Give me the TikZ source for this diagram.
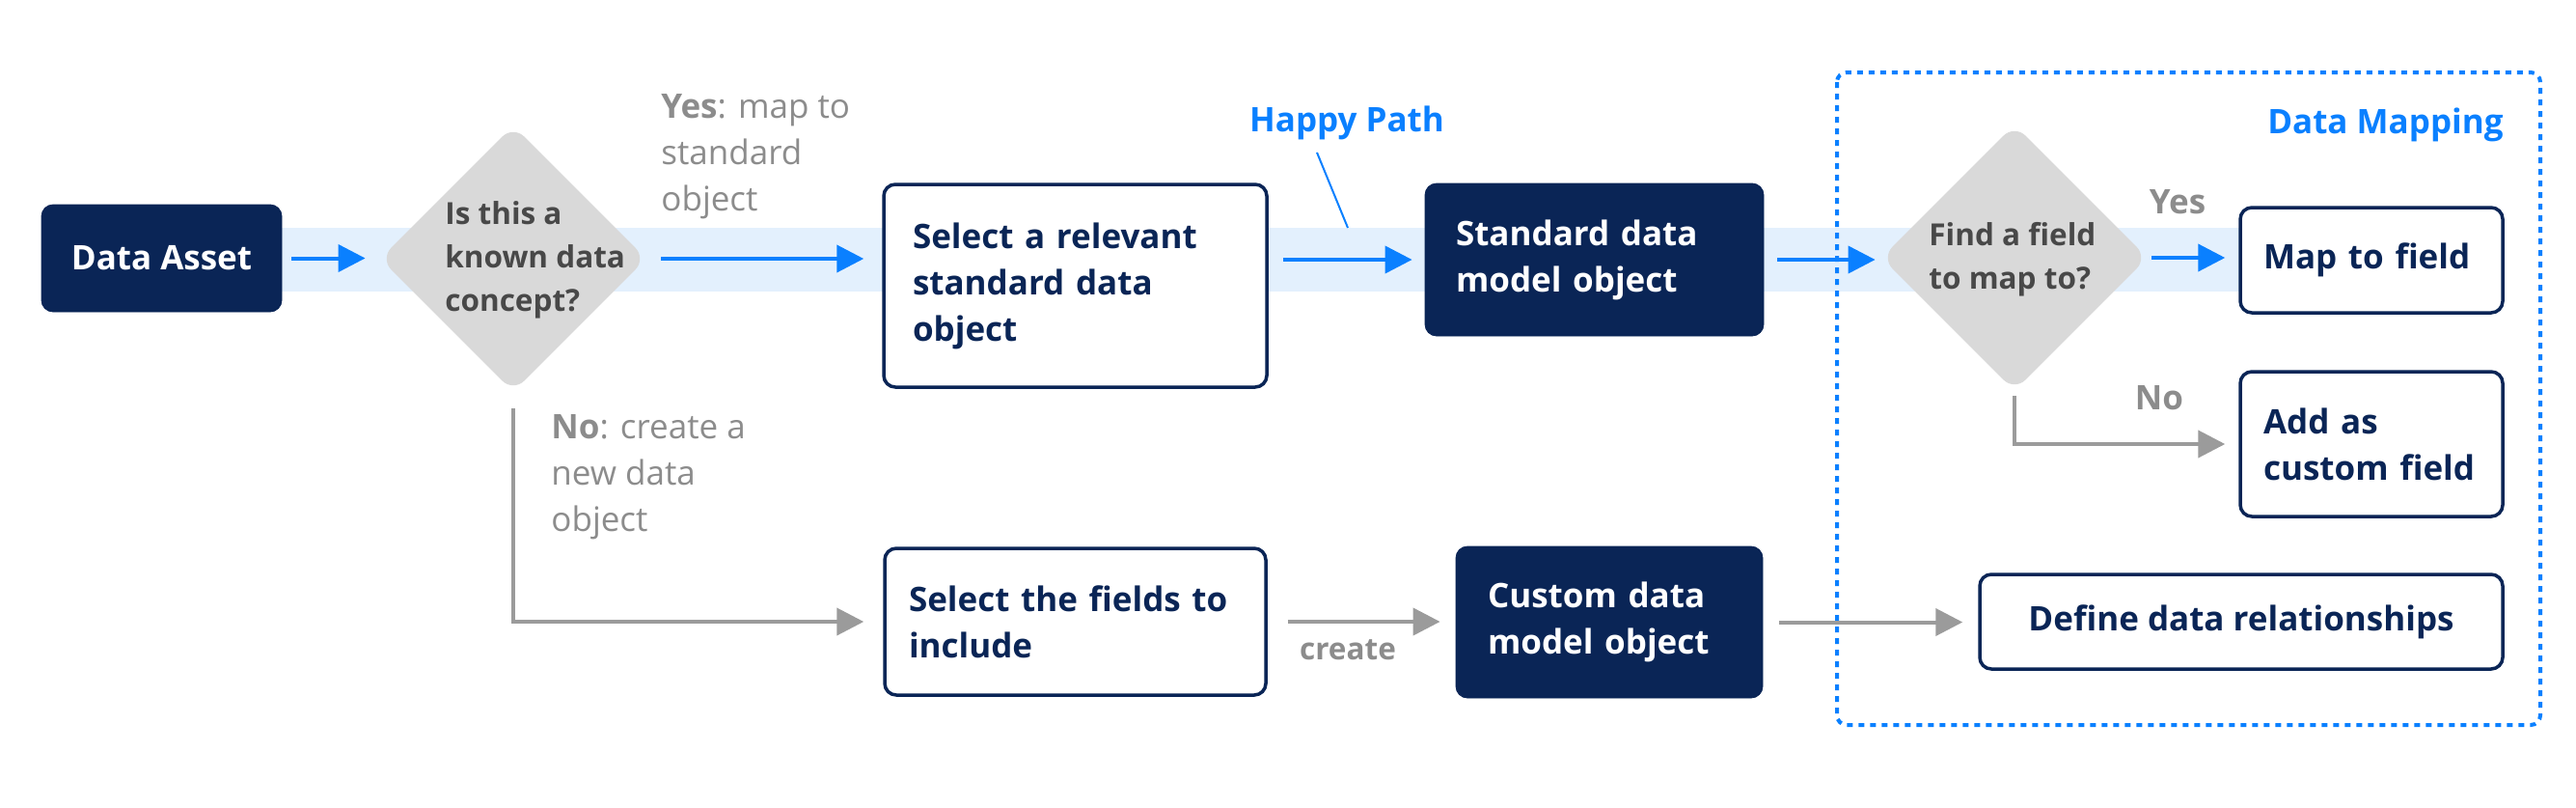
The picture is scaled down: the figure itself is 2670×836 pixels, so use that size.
\documentclass[tikz,border=0pt]{standalone}
\usepackage{fontspec}
\setmainfont{Open Sans}
\usetikzlibrary{arrows.meta,shapes.geometric}

\definecolor{navy}{RGB}{10,37,86}
\definecolor{hblue}{RGB}{10,128,255}
\definecolor{bandblue}{RGB}{227,240,253}
\definecolor{diagray}{RGB}{217,217,217}
\definecolor{qgray}{RGB}{72,72,72}
\definecolor{lblgray}{RGB}{140,140,140}
\definecolor{arrgray}{RGB}{155,155,155}

\tikzset{
  boxfont/.style={font=\bfseries\fontsize{17.5}{24}\selectfont},
  darkbox/.style={boxfont, fill=navy, draw=navy, text=white, rounded corners=6pt, align=left, inner ysep=0pt},
  whitebox/.style={boxfont, fill=white, draw=navy, line width=1.75pt, text=navy, rounded corners=6pt, align=left, inner ysep=0pt},
  decision/.style={diamond, aspect=1, fill=diagray, rounded corners=8pt, minimum width=138pt, minimum height=138pt, inner sep=0pt},
  qtext/.style={font=\bfseries\fontsize{15.75}{22.5}\selectfont, text=qgray, align=left, inner sep=0pt},
  note/.style={font=\fontsize{17.5}{24}\selectfont, text=lblgray, align=left, inner sep=0pt},
  notebold/.style={font=\bfseries\fontsize{17.5}{24}\selectfont, text=lblgray, inner sep=0pt},
  bluelbl/.style={font=\bfseries\fontsize{17.5}{24}\selectfont, text=hblue, inner sep=0pt},
  flow/.style={draw=hblue, line width=2pt, -{Triangle[length=14pt,width=14pt]}},
  altflow/.style={draw=arrgray, line width=2pt, -{Triangle[length=14pt,width=14pt]}},
  leader/.style={draw=hblue, line width=1pt},
  mapframe/.style={draw=hblue, line width=2pt, dash pattern=on 3pt off 3pt, rounded corners=5pt}
}

\begin{document}
\begin{tikzpicture}[x=0.5pt, y=-0.5pt]
    \useasboundingbox (0,0) rectangle (2670,836);

    % happy path band
    \fill[bandblue] (292,236) rectangle (2322,302);

    % data mapping frame
    \draw[mapframe] (1904,75) rectangle (2633,751);

    % top row
    \node[darkbox, minimum width=124.5pt, minimum height=55.5pt, align=center] (asset) at (167.5,267.5) {Data Asset};
    \node[decision] (known) at (532,268) {};
    \node[qtext, anchor=west] (knowntxt) at (461,269) {Is this a\\known data\\concept?};
    \node[whitebox, text width=168.5pt, inner xsep=15pt, minimum height=105pt] (stdsel) at (1114.5,296) {Select a relevant\\standard data\\object};
    \node[darkbox, text width=143.5pt, inner xsep=16pt, minimum height=79pt] (stdobj) at (1652.5,269) {Standard data\\model object};
    \node[decision] (find) at (2088,267) {};
    \node[qtext, anchor=west] (findtxt) at (1999,268.5) {Find a field\\to map to?};
    \node[whitebox, text width=112pt, inner xsep=12pt, minimum height=54.5pt] (mapfld) at (2458,269.5) {Map to field};
    \node[whitebox, text width=112pt, inner xsep=12pt, minimum height=75pt] (addfld) at (2458,460) {Add as\\custom field};

    % bottom row
    \node[whitebox, text width=172.5pt, inner xsep=12.5pt, minimum height=76pt] (selfld) at (1114.5,644) {Select the fields to\\include};
    \node[darkbox, text width=126pt, inner xsep=16.5pt, minimum height=78.5pt] (custobj) at (1668,644.5) {Custom data\\model object};
    \node[whitebox, minimum width=271pt, minimum height=49pt, align=center] (defrel) at (2323,644) {Define data relationships};

    % labels
    \node[note, anchor=west] (yeslbl) at (685,162) {\textbf{Yes}: map to\\standard\\object};
    \node[note, anchor=west] (nolbl) at (571,494) {\textbf{No}: create a\\new data\\object};
    \node[notebold, font=\bfseries\fontsize{15.75}{20}\selectfont] (createlbl) at (1397,673) {create};
    \node[notebold] (yesfind) at (2257,209) {Yes};
    \node[notebold] (nofind) at (2238,412) {No};
    \node[bluelbl] (happy) at (1396,127) {Happy Path};
    \node[bluelbl, anchor=east] (maplbl) at (2595,129) {Data Mapping};

    % happy path pointer
    \coordinate (leadtop) at (1365,158);
    \coordinate (leadbot) at (1397,236);
    \draw[leader] (leadtop) -- (leadbot);

    % blue flow
    \draw[flow, shorten <=5pt, shorten >=7.5pt] (asset.east) -- (asset.east -| known.west);
    \draw[flow, shorten <=7.5pt, shorten >=9.5pt] (known.east) -- (known.east -| stdsel.west);
    \draw[flow, shorten <=7.5pt, shorten >=6.5pt] (stdobj.west -| stdsel.east) -- (stdobj.west);
    \draw[flow, shorten <=7pt, shorten >=3pt] (stdobj.east) -- (stdobj.east -| find.west);
    \draw[flow, shorten <=2pt, shorten >=7pt] (find.east) -- (find.east -| mapfld.west);

    % gray flow
    \draw[altflow, shorten <=8.5pt, shorten >=10pt] (known.south) |- (selfld.west);
    \draw[altflow, shorten <=10.5pt, shorten >=8pt] (selfld.east) -- (selfld.east -| custobj.west);
    \draw[altflow, shorten <=8.5pt, shorten >=8pt] (custobj.east) -- (custobj.east -| defrel.west);
    \draw[altflow, shorten <=2.5pt, shorten >=7pt] (find.south) |- (addfld.west);
\end{tikzpicture}
\end{document}
